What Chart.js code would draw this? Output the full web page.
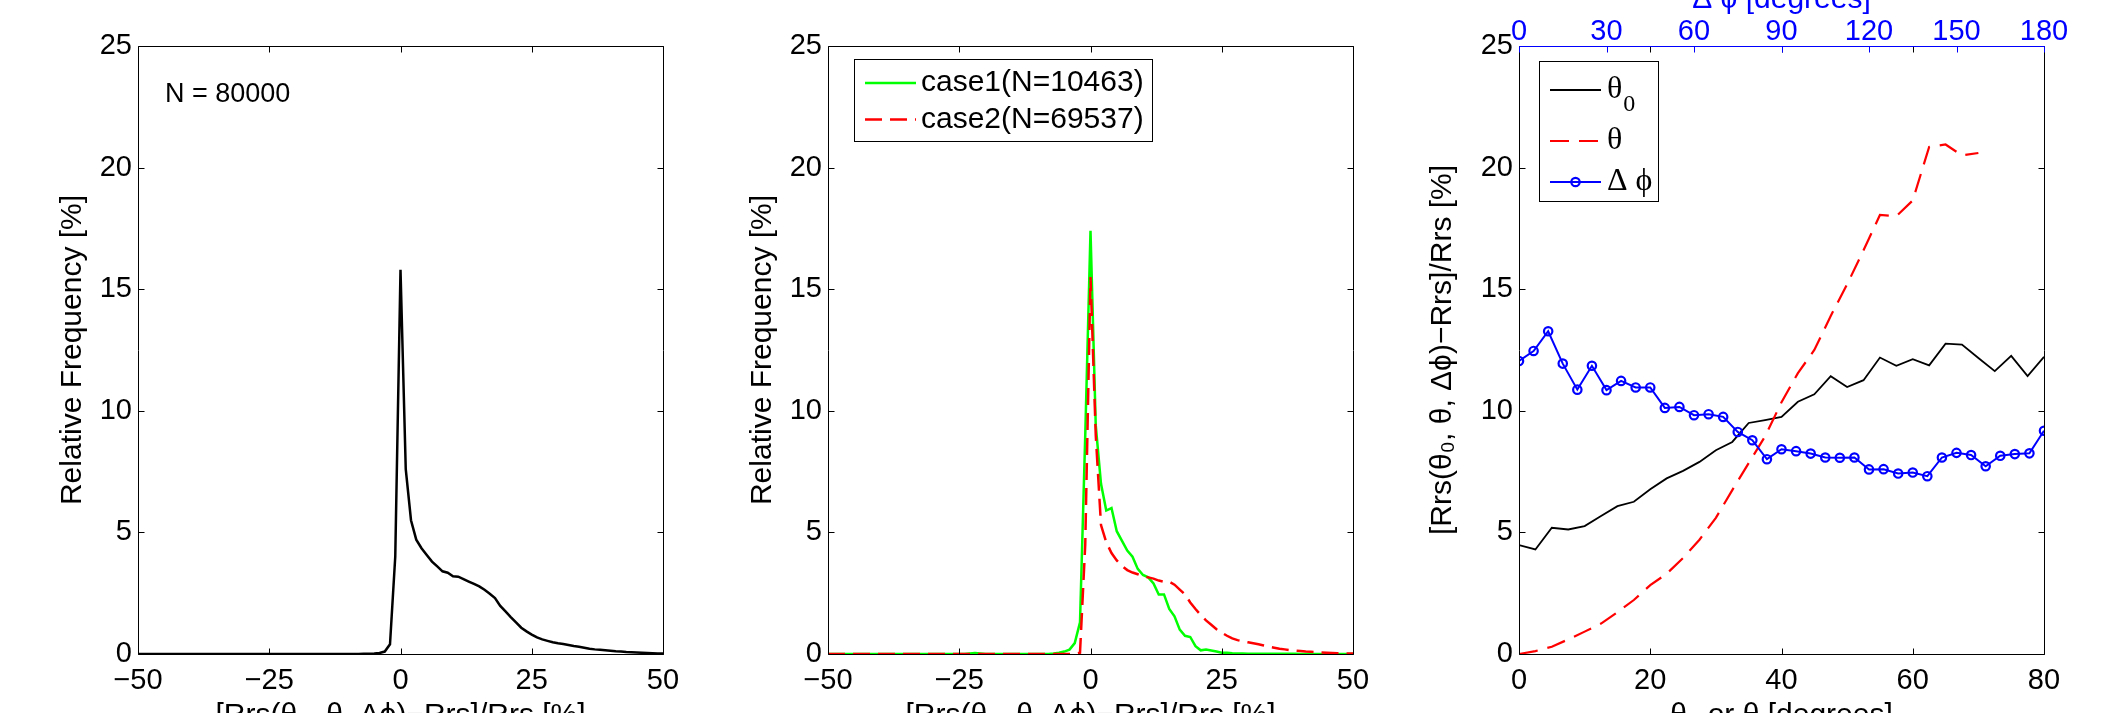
<!DOCTYPE html>
<html lang="en">
<head>
<meta charset="UTF-8">
<title>Rrs relative difference</title>
<script src="https://cdn.jsdelivr.net/npm/chart.js"></script>
<style>
    html, body { margin: 0; padding: 0; background: #fff; overflow: hidden; }
    body { width: 2123px; height: 713px; position: relative; }
    .panel { position: absolute; top: -40px; width: 700px; height: 800px; }
</style>
</head>
<body>
<div class="panel" style="left:0px"><canvas id="c1" width="700" height="800"></canvas></div>
<div class="panel" style="left:690px"><canvas id="c2" width="700" height="800"></canvas></div>
<div class="panel" style="left:1381px"><canvas id="c3" width="700" height="800"></canvas></div>

<script>
    // ---- panels 1 and 2: histogram of the relative difference [%] ----
    const binCenters = [
        -50, -49, -48, -47, -46, -45, -44, -43, -42, -41,
        -40, -39, -38, -37, -36, -35, -34, -33, -32, -31,
        -30, -29, -28, -27, -26, -25, -24, -23, -22, -21,
        -20, -19, -18, -17, -16, -15, -14, -13, -12, -11,
        -10, -9, -8, -7, -6, -5, -4, -3, -2, -1,
        0, 1, 2, 3, 4, 5, 6, 7, 8, 9,
        10, 11, 12, 13, 14, 15, 16, 17, 18, 19,
        20, 21, 22, 23, 24, 25, 26, 27, 28, 29,
        30, 31, 32, 33, 34, 35, 36, 37, 38, 39,
        40, 41, 42, 43, 44, 45, 46, 47, 48, 49,
        50
    ];
    const allFreq = [
        0, 0, 0, 0, 0, 0, 0, 0, 0, 0,
        0, 0, 0, 0, 0, 0, 0, 0, 0, 0,
        0, 0, 0, 0, 0, 0, 0, 0, 0, 0,
        0, 0, 0, 0, 0, 0, 0, 0, 0, 0,
        0, 0, 0, 0.01, 0.01, 0.02, 0.04, 0.1, 0.4, 4.0,
        15.8, 7.6, 5.5, 4.7, 4.35, 4.07, 3.8, 3.6, 3.4, 3.34,
        3.2, 3.18, 3.08, 2.98, 2.88, 2.78, 2.64, 2.48, 2.3, 1.98,
        1.75, 1.52, 1.3, 1.08, 0.93, 0.8, 0.68, 0.6, 0.54, 0.48,
        0.44, 0.41, 0.37, 0.33, 0.3, 0.26, 0.22, 0.19, 0.17, 0.15,
        0.13, 0.11, 0.1, 0.08, 0.07, 0.06, 0.05, 0.04, 0.03, 0.02,
        0.02
    ];
    const case1Freq = [
        0, 0, 0, 0, 0, 0, 0, 0, 0, 0,
        0, 0, 0, 0, 0, 0, 0, 0, 0, 0,
        0, 0, 0, 0, 0, 0, 0, 0.02, 0.04, 0.02,
        0, 0, 0, 0, 0, 0, 0, 0, 0, 0,
        0, 0, 0, 0.02, 0.05, 0.1, 0.18, 0.45, 1.3, 9.0,
        17.4, 9.4, 7.0, 5.9, 6.0, 5.05, 4.65, 4.25, 4.0, 3.5,
        3.25, 3.15, 2.9, 2.45, 2.45, 1.85, 1.55, 1.0, 0.75, 0.7,
        0.32, 0.15, 0.18, 0.14, 0.1, 0.05, 0.05, 0.03, 0.02, 0.02,
        0.01, 0.01, 0.01, 0.01, 0.01, 0.01, 0.01, 0.01, 0.01, 0.01,
        0, 0, 0, 0, 0, 0, 0, 0, 0, 0,
        0
    ];
    const case2Freq = [
        0, 0, 0, 0, 0, 0, 0, 0, 0, 0,
        0, 0, 0, 0, 0, 0, 0, 0, 0, 0,
        0, 0, 0, 0, 0, 0, 0, 0, 0, 0,
        0, 0, 0, 0, 0, 0, 0, 0, 0, 0,
        0, 0, 0, 0, 0, 0, 0, 0, 0.05, 4.5,
        15.5, 9.0, 5.3, 4.6, 4.15, 3.85, 3.62, 3.45, 3.35, 3.28,
        3.2, 3.15, 3.1, 3.02, 2.97, 2.97, 2.85, 2.65, 2.45, 2.12,
        1.85, 1.6, 1.38, 1.2, 1.02, 0.88, 0.75, 0.64, 0.57, 0.52,
        0.48, 0.44, 0.4, 0.35, 0.3, 0.26, 0.22, 0.19, 0.16, 0.14,
        0.12, 0.1, 0.09, 0.08, 0.06, 0.05, 0.04, 0.03, 0.03, 0.02,
        0.02
    ];

    // ---- panel 3: mean relative difference vs angle ----
    const thetaDeg = [
        0, 2.5, 5, 7.5, 10, 12.5, 15, 17.5, 20, 22.5,
        25, 27.5, 30, 32.5, 35, 37.5, 40, 42.5, 45, 47.5,
        50, 52.5, 55, 57.5, 60, 62.5, 65, 67.5, 70, 72.5,
        75, 77.5, 80
    ];
    const theta0Diff = [
        4.48, 4.30, 5.19, 5.12, 5.26, 5.67, 6.08, 6.26, 6.77, 7.22,
        7.53, 7.9, 8.38, 8.72, 9.5, 9.62, 9.75, 10.37, 10.68, 11.42,
        10.98, 11.26, 12.19, 11.85, 12.12, 11.87, 12.76, 12.72, 12.17, 11.63,
        12.26, 11.43, 12.22
    ];
    const thetaDiff = [
        0, 0.12, 0.3, 0.6, 0.92, 1.25, 1.72, 2.22, 2.83, 3.3,
        3.95, 4.7, 5.6, 6.74, 7.85, 8.95, 10.35, 11.55, 12.5, 13.9,
        15.2, 16.6, 18.05, 18.0, 18.65, 20.85, 20.95, 20.5, 20.6
    ];
    const dphiDeg = [
        0, 5, 10, 15, 20, 25, 30, 35, 40, 45,
        50, 55, 60, 65, 70, 75, 80, 85, 90, 95,
        100, 105, 110, 115, 120, 125, 130, 135, 140, 145,
        150, 155, 160, 165, 170, 175, 180
    ];
    const dphiDiff = [
        12.05, 12.46, 13.27, 11.94, 10.87, 11.85, 10.85, 11.23, 10.96, 10.96,
        10.12, 10.16, 9.82, 9.86, 9.75, 9.13, 8.79, 8.01, 8.42, 8.34,
        8.24, 8.08, 8.07, 8.08, 7.59, 7.6, 7.42, 7.46, 7.31, 8.08,
        8.27, 8.18, 7.72, 8.15, 8.22, 8.25, 9.18
    ];

    const SANS = '"Liberation Sans", Arial, Helvetica, sans-serif';
    const SERIF = '"Liberation Serif", "Times New Roman", serif';
    Chart.defaults.font.family = SANS;
    Chart.defaults.color = '#000';

    const pts = (xs, ys) => ys.map((y, i) => ({ x: xs[i], y: y }));
    const minus = v => String(v).replace('-', '\u2212');

    // matlab style box with inward ticks
    const matFrame = {
        id: 'matFrame',
        afterDatasetsDraw(chart, args, o) {
            const { ctx, chartArea: a } = chart;
            const L = Math.round(a.left) + 0.5, R = Math.round(a.right) + 0.5;
            const T = Math.round(a.top) + 0.5, B = Math.round(a.bottom) + 0.5;
            const tl = 6;
            const xs = chart.scales.x, ys = chart.scales.y;
            ctx.save();
            ctx.lineWidth = 1;
            ctx.strokeStyle = '#000';
            ctx.beginPath();
            ctx.moveTo(L, T); ctx.lineTo(L, B); ctx.lineTo(R, B); ctx.lineTo(R, T);
            if (!o.topScale) ctx.lineTo(L, T);
            xs.ticks.forEach(t => {
                const p = Math.round(xs.getPixelForValue(t.value)) + 0.5;
                ctx.moveTo(p, B); ctx.lineTo(p, B - tl);
                ctx.moveTo(p, T); ctx.lineTo(p, T + tl);
            });
            ys.ticks.forEach(t => {
                const p = Math.round(ys.getPixelForValue(t.value)) + 0.5;
                ctx.moveTo(L, p); ctx.lineTo(L + tl, p);
                ctx.moveTo(R, p); ctx.lineTo(R - tl, p);
            });
            ctx.stroke();
            if (o.topScale) {
                const ts = chart.scales[o.topScale];
                ctx.strokeStyle = o.topColor;
                ctx.beginPath();
                ctx.moveTo(L, T); ctx.lineTo(R, T);
                ts.ticks.forEach(t => {
                    const p = Math.round(ts.getPixelForValue(t.value)) + 0.5;
                    ctx.moveTo(p, T); ctx.lineTo(p, T + tl);
                });
                ctx.stroke();
            }
            ctx.restore();
        }
    };

    const textNote = {
        id: 'textNote',
        afterDraw(chart, args, o) {
            if (!o.text) return;
            const { ctx, chartArea: a } = chart;
            ctx.save();
            ctx.font = o.font;
            ctx.fillStyle = '#000';
            ctx.textBaseline = 'middle';
            ctx.textAlign = 'left';
            ctx.fillText(o.text, a.left + o.dx, a.top + o.dy);
            ctx.restore();
        }
    };

    // boxed legend, label "a_b" draws b as subscript
    const boxLegend = {
        id: 'boxLegend',
        afterDraw(chart, args, o) {
            if (!o.box) return;
            const { ctx, chartArea: a } = chart;
            const x0 = Math.round(a.left + o.box[0]), y0 = Math.round(a.top + o.box[1]);
            ctx.save();
            ctx.fillStyle = '#fff';
            ctx.fillRect(x0, y0, o.box[2], o.box[3]);
            ctx.strokeStyle = '#000';
            ctx.lineWidth = 1;
            ctx.strokeRect(x0 + 0.5, y0 + 0.5, o.box[2], o.box[3]);
            chart.data.datasets.forEach((ds, i) => {
                const y = a.top + o.rows[i];
                const lx0 = a.left + o.line[0], lx1 = a.left + o.line[1];
                ctx.strokeStyle = ds.borderColor;
                ctx.lineWidth = ds.borderWidth;
                ctx.setLineDash(ds.borderDash || []);
                ctx.beginPath();
                ctx.moveTo(lx0, y); ctx.lineTo(lx1, y);
                ctx.stroke();
                ctx.setLineDash([]);
                if (ds.pointRadius > 0) {
                    ctx.lineWidth = ds.pointBorderWidth;
                    ctx.beginPath();
                    ctx.arc((lx0 + lx1) / 2, y, ds.pointRadius, 0, Math.PI * 2);
                    ctx.stroke();
                }
                const parts = ds.label.split('_');
                const tx = a.left + o.textX;
                ctx.fillStyle = '#000';
                ctx.font = o.font;
                ctx.textBaseline = 'middle';
                ctx.textAlign = 'left';
                ctx.fillText(parts[0], tx, y);
                if (parts[1]) {
                    const w = ctx.measureText(parts[0]).width;
                    ctx.font = o.subFont;
                    ctx.fillText(parts[1], tx + w + 1, y + o.subDy);
                }
            });
            ctx.restore();
        }
    };

    const tickFont = { family: SANS, size: 29 };
    const titleFont = { family: SANS, size: 30 };
    const diffLabel = '[Rrs(θ\u2080, θ, Δϕ)\u2212Rrs]/Rrs [%]';

    function xScale(min, max, step, title) {
        return {
            type: 'linear', min: min, max: max, position: 'bottom',
            afterFit: s => { s.height = 80; },
            grid: { display: false, drawTicks: false },
            border: { display: false },
            ticks: { stepSize: step, padding: 10, font: tickFont, color: '#000', autoSkip: false, maxRotation: 0, callback: minus },
            title: { display: true, text: title, font: titleFont, color: '#000', padding: { top: 0, bottom: 0 } }
        };
    }
    function yScale(title, pad) {
        return {
            type: 'linear', min: 0, max: 25,
            afterFit: s => { s.width = 138; },
            grid: { display: false, drawTicks: false },
            border: { display: false },
            ticks: { stepSize: 5, padding: 6, font: tickFont, color: '#000', autoSkip: false },
            title: { display: true, text: title, font: titleFont, color: '#000', padding: { top: pad, bottom: 0 } }
        };
    }
    const basePlugins = { legend: { display: false }, tooltip: { enabled: false } };

    new Chart(document.getElementById('c1'), {
        type: 'line',
        data: {
            datasets: [{
                label: 'all',
                data: pts(binCenters, allFreq),
                borderColor: '#000000', borderWidth: 2.5, pointRadius: 0, tension: 0
            }]
        },
        options: {
            responsive: false, animation: false, events: [],
            layout: { padding: { left: 0, right: 37, top: 86, bottom: 26 } },
            scales: {
                x: xScale(-50, 50, 25, diffLabel),
                y: yScale('Relative Frequency [%]', 55)
            },
            plugins: Object.assign({}, basePlugins, {
                textNote: { text: 'N = 80000', font: '27px ' + SANS, dx: 27, dy: 49 }
            })
        },
        plugins: [matFrame, textNote]
    });

    new Chart(document.getElementById('c2'), {
        type: 'line',
        data: {
            datasets: [{
                label: 'case1(N=10463)',
                data: pts(binCenters, case1Freq),
                borderColor: '#00ff00', borderWidth: 2.5, pointRadius: 0, tension: 0, order: 1
            }, {
                label: 'case2(N=69537)',
                data: pts(binCenters, case2Freq),
                borderColor: '#ff0000', borderWidth: 2.5, borderDash: [17, 8], pointRadius: 0, tension: 0, order: 0
            }]
        },
        options: {
            responsive: false, animation: false, events: [],
            layout: { padding: { left: 0, right: 37, top: 86, bottom: 26 } },
            scales: {
                x: xScale(-50, 50, 25, diffLabel),
                y: yScale('Relative Frequency [%]', 55)
            },
            plugins: Object.assign({}, basePlugins, {
                boxLegend: {
                    box: [26, 13, 298, 82], rows: [37, 73.5], line: [37, 88],
                    textX: 93, font: '30px ' + SANS
                }
            })
        },
        plugins: [matFrame, boxLegend]
    });

    new Chart(document.getElementById('c3'), {
        type: 'line',
        data: {
            datasets: [{
                label: 'θ_0',
                data: pts(thetaDeg, theta0Diff), xAxisID: 'x',
                borderColor: '#000000', borderWidth: 1.8, pointRadius: 0, tension: 0, order: 2
            }, {
                label: 'θ',
                data: pts(thetaDeg, thetaDiff), xAxisID: 'x',
                borderColor: '#ff0000', borderWidth: 2.2, borderDash: [19, 10], pointRadius: 0, tension: 0, order: 1
            }, {
                label: 'Δ ϕ',
                data: pts(dphiDeg, dphiDiff), xAxisID: 'x2',
                borderColor: '#0000ff', borderWidth: 2, tension: 0, order: 0,
                pointRadius: 4.2, pointBorderWidth: 2.2, pointBorderColor: '#0000ff',
                pointBackgroundColor: 'rgba(0,0,0,0)'
            }]
        },
        options: {
            responsive: false, animation: false, events: [],
            layout: { padding: { left: 0, right: 37, top: 0, bottom: 26 } },
            scales: {
                x: xScale(0, 80, 20, 'θ\u2080 or θ [degrees]'),
                x2: {
                    type: 'linear', min: 0, max: 180, position: 'top',
                    afterFit: s => { s.height = 86; },
                    grid: { display: false, drawTicks: false },
                    border: { display: false },
                    ticks: { stepSize: 30, padding: 0, font: { family: SANS, size: 29, lineHeight: 1 }, color: '#0000ff', autoSkip: false, maxRotation: 0 },
                    title: { display: true, text: 'Δ ϕ [degrees]', font: titleFont, color: '#0000ff', padding: { top: 22, bottom: 0 } }
                },
                y: yScale(diffLabel, 44)
            },
            plugins: Object.assign({}, basePlugins, {
                matFrame: { topScale: 'x2', topColor: '#0000ff' },
                boxLegend: {
                    box: [20, 15, 119, 140], rows: [44, 95, 136], line: [31, 82],
                    textX: 88, font: '32px ' + SERIF, subFont: '24px ' + SERIF, subDy: 15
                }
            })
        },
        plugins: [matFrame, boxLegend]
    });
</script>
</body>
</html>
